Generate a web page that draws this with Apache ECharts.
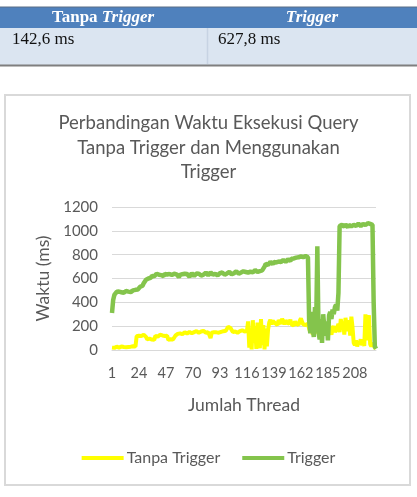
<!DOCTYPE html>
<html>
<head>
<meta charset="utf-8">
<script src="https://cdn.jsdelivr.net/npm/echarts@6/dist/echarts.min.js"></script>
<style>html,body{margin:0;padding:0;background:#fff;}#c{width:417px;height:497px;}</style>
</head>
<body>
<div id="c"></div>
<script>
// ---- data ----
const chartTitle = 'Perbandingan Waktu Eksekusi Query\nTanpa Trigger dan Menggunakan\nTrigger';
const seriesNames = ['Tanpa Trigger', 'Trigger'];
const tableHeaders = ['Tanpa Trigger', 'Trigger'];
const tableValues = ['142,6 ms', '627,8 ms'];
const yTicks = [0, 200, 400, 600, 800, 1000, 1200];

const tanpaTrigger = [
  20, 25, 18, 22, 28, 24, 20, 26, 30, 22, 25, 28, 24, 20, 26, 30, 28, 25, 32, 28, 30,
  115, 125, 120, 130, 118, 112, 128, 122, 110,
  90, 85, 95, 80, 88, 92, 85,
  118, 125, 112, 120, 128, 115, 122, 110, 118, 125, 120,
  85, 80, 90, 82, 88, 95,
  120, 128, 135, 130, 140, 138, 132, 145, 150, 142, 138, 148, 152, 145, 140, 155, 150, 148, 158, 152, 145, 150,
  155, 148, 160, 152, 145, 158, 150, 140, 100, 145, 155, 150, 162, 148, 155, 145, 160, 152, 148, 158, 150, 162, 155,
  195, 210, 185, 200,
  150, 140, 155, 160, 145, 150, 158, 142, 165, 150, 155, 145, 160,
  240, 20, 180, 5, 250, 60, 200, 10, 230, 120, 15, 260, 40, 210, 5, 180, 30, 170,
  230, 255, 215, 245, 260, 225, 240, 210, 250, 235, 220, 262, 240, 215, 250, 230, 245, 220, 255,
  215, 225, 205, 240, 220, 230, 210, 245, 265, 235, 215, 225, 210, 205, 220,
  180, 150, 200, 130, 170, 210, 140, 190, 160, 120, 180, 200, 150, 230, 170, 140, 190, 210, 160, 130, 180, 200, 150, 170, 190,
  220, 150, 260, 180, 240, 130, 270, 200, 160, 250, 120, 280, 190,
  60, 40, 80, 30, 70, 50, 90, 40, 60, 35,
  300, 80, 260, 290,
  50, 30, 60, 40, 20, 15
];

const denganTrigger = [
  310, 420, 462, 478, 488, 482, 490, 476, 485, 492,
  480, 487, 495, 483, 490, 498, 486, 494, 500, 492,
  505, 512, 508, 522, 530, 545, 540, 560, 575, 590,
  585, 600, 612, 605, 622, 630, 618, 628, 640, 625,
  632, 645, 628, 636, 620, 640, 650, 632, 625, 638,
  645, 630, 622, 640, 648, 635, 628, 612, 630, 642,
  636, 625, 640, 650, 638, 622, 615, 630, 645, 632,
  620, 628, 642, 655, 640, 630, 625, 618, 632, 645,
  650, 638, 626, 640, 652, 645, 632, 628, 640, 636,
  625, 630, 645, 640, 650, 638, 632, 628, 642, 648,
  655, 640, 635, 630, 645, 652, 660, 648, 640, 655,
  650, 642, 660, 668, 655, 648, 650, 662, 658, 645,
  652, 665, 670, 660, 655, 648, 662, 675, 668, 680,
  700, 722, 730, 715, 725, 740, 732, 720, 738, 745,
  735, 728, 742, 750, 738, 745, 755, 748, 740, 752,
  760, 755, 748, 765, 772, 768, 760, 775, 782, 778,
  770, 785, 790, 780, 775, 788, 782, 778,
  250, 140, 320, 180, 110, 360, 200, 870,
  150, 90, 260, 60, 300, 180, 120, 240, 80, 290, 320, 260, 340, 300, 360, 380, 330,
  480,
  1040, 1030, 1050, 1045, 1035, 1055, 1040, 1030, 1048, 1052, 1038, 1045, 1050, 1035,
  1042, 1055, 1060, 1045, 1040, 1050, 1058, 1062, 1048, 1055, 1065, 1050, 1058, 1052,
  1050, 400, 30, 10
];

const categories = denganTrigger.map((_, i) => String(i + 1));

// ---- chart ----
const chart = echarts.init(document.getElementById('c'), null, {renderer: 'canvas'});
const grey = '#595959';
const font = 'Lato, "Noto Sans", sans-serif';
const serif = '"Liberation Serif", "DejaVu Serif", serif';

chart.setOption({
  animation: false,
  backgroundColor: '#fff',
  graphic: [
    // table
    {type: 'rect', z: -10, shape: {x: 0, y: 7, width: 417, height: 21}, style: {fill: '#4f81bd'}},
    {type: 'rect', z: -10, shape: {x: 0, y: 28, width: 417, height: 37}, style: {fill: '#dbe5f1'}},
    {type: 'line', z: -9, shape: {x1: 0, y1: 7, x2: 417, y2: 7}, style: {stroke: '#5a6e87', lineWidth: 1}},
    {type: 'line', z: -9, shape: {x1: 207.5, y1: 28, x2: 207.5, y2: 64}, style: {stroke: '#c7d3e3', lineWidth: 1.5}},
    {type: 'line', z: -9, shape: {x1: 0, y1: 65.5, x2: 417, y2: 65.5}, style: {stroke: '#7f7f7f', lineWidth: 2}},
    {type: 'text', z: -8, x: 103, y: 18, style: {
      text: '{b|Tanpa }{bi|' + tableHeaders[1] + '}', align: 'center', verticalAlign: 'middle',
      rich: {
        b: {fontFamily: serif, fontWeight: 'bold', fontSize: 17, fill: '#fff'},
        bi: {fontFamily: serif, fontWeight: 'bold', fontStyle: 'italic', fontSize: 17, fill: '#fff'}
      }}},
    {type: 'text', z: -8, x: 312, y: 18, style: {
      text: tableHeaders[1], align: 'center', verticalAlign: 'middle',
      fontFamily: serif, fontWeight: 'bold', fontStyle: 'italic', fontSize: 17, fill: '#fff'}},
    {type: 'text', z: -8, x: 12, y: 40, style: {
      text: tableValues[0], verticalAlign: 'middle', fontFamily: serif, fontSize: 17, fill: '#111'}},
    {type: 'text', z: -8, x: 218, y: 40, style: {
      text: tableValues[1], verticalAlign: 'middle', fontFamily: serif, fontSize: 17, fill: '#111'}},
    // chart border
    {type: 'rect', z: -10, shape: {x: 5, y: 95, width: 405, height: 390}, style: {fill: '#fff', stroke: '#d9d9d9', lineWidth: 2}}
  ],
  title: {
    text: chartTitle,
    left: 'center',
    top: 106,
    textStyle: {fontFamily: font, fontSize: 18.5, fontWeight: 'normal', color: grey, lineHeight: 24.5}
  },
  legend: {
    data: seriesNames,
    left: 'center',
    top: 445,
    icon: 'rect',
    itemWidth: 42,
    itemHeight: 4,
    itemGap: 22,
    textStyle: {fontFamily: font, fontSize: 16, color: grey, padding: [0, 0, 0, -2]}
  },
  grid: {left: 112, right: 41, top: 207, bottom: 147, containLabel: false},
  xAxis: {
    type: 'category',
    data: categories,
    boundaryGap: false,
    name: 'Jumlah Thread',
    nameLocation: 'middle',
    nameGap: 46,
    nameTextStyle: {fontFamily: font, fontSize: 17.5, color: grey},
    axisLine: {show: true, lineStyle: {color: '#d9d9d9', width: 1}},
    axisTick: {show: false},
    axisLabel: {interval: 22, fontFamily: font, fontSize: 14.5, color: grey, margin: 16}
  },
  yAxis: {
    type: 'value',
    min: yTicks[0],
    max: yTicks[yTicks.length - 1],
    interval: 200,
    name: 'Waktu (ms)',
    nameLocation: 'middle',
    nameGap: 59,
    nameTextStyle: {fontFamily: font, fontSize: 17.5, color: grey},
    axisLine: {show: false},
    axisTick: {show: false},
    splitLine: {lineStyle: {color: '#d9d9d9', width: 1}},
    axisLabel: {fontFamily: font, fontSize: 15, color: grey, margin: 14, formatter: v => String(v)}
  },
  series: [
    {name: seriesNames[0], type: 'line', data: tanpaTrigger, showSymbol: false, symbol: 'none',
     color: '#ffff00', lineStyle: {color: '#ffff00', width: 4}, z: 2},
    {name: seriesNames[1], type: 'line', data: denganTrigger, showSymbol: false, symbol: 'none',
     color: '#84c44c', lineStyle: {color: '#84c44c', width: 4.5}, z: 3}
  ]
});
</script>
</body>
</html>
